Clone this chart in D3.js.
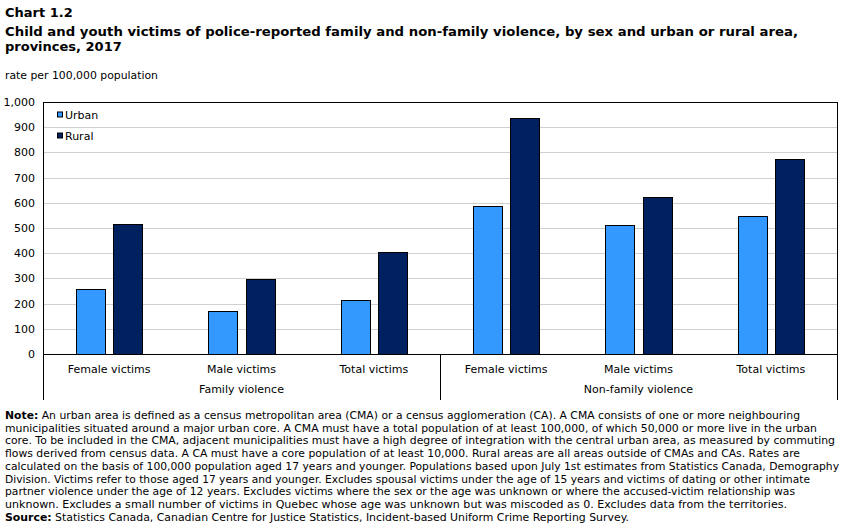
<!DOCTYPE html>
<html>
<head>
<meta charset="utf-8">
<script src="https://cdn.jsdelivr.net/npm/d3@7"></script>
<style>
  html, body { margin: 0; padding: 0; background: #fff; }
  svg { display: block; }
  text { font-family: Verdana, "DejaVu Sans", sans-serif; fill: #000; }
</style>
</head>
<body>
<svg id="chart" width="852" height="530"></svg>
<script>
// ---- Data ----
const groups = ["Family violence", "Non-family violence"];
const categories = ["Female victims", "Male victims", "Total victims", "Female victims", "Male victims", "Total victims"];
const categoryGroup = [0, 0, 0, 1, 1, 1];
const seriesNames = ["Urban", "Rural"];
const urban = [257, 171, 214, 587, 512, 547];
const rural = [516, 297, 405, 936, 622, 773];
const yTicks = [0, 100, 200, 300, 400, 500, 600, 700, 800, 900, 1000];
const colors = ["#3399ff", "#002060"];

const titleLines = [
  "Chart 1.2",
  "Child and youth victims of police-reported family and non-family violence, by sex and urban or rural area,",
  "provinces, 2017"
];
const unitLabel = "rate per 100,000 population";
const noteLines = [
  ["Note:", " An urban area is defined as a census metropolitan area (CMA) or a census agglomeration (CA). A CMA consists of one or more neighbouring"],
  ["", "municipalities situated around a major urban core. A CMA must have a total population of at least 100,000, of which 50,000 or more live in the urban"],
  ["", "core. To be included in the CMA, adjacent municipalities must have a high degree of integration with the central urban area, as measured by commuting"],
  ["", "flows derived from census data. A CA must have a core population of at least 10,000. Rural areas are all areas outside of CMAs and CAs. Rates are"],
  ["", "calculated on the basis of 100,000 population aged 17 years and younger. Populations based upon July 1st estimates from Statistics Canada, Demography"],
  ["", "Division. Victims refer to those aged 17 years and younger. Excludes spousal victims under the age of 15 years and victims of dating or other intimate"],
  ["", "partner violence under the age of 12 years. Excludes victims where the sex or the age was unknown or where the accused-victim relationship was"],
  ["", "unknown. Excludes a small number of victims in Quebec whose age was unknown but was miscoded as 0. Excludes data from the territories."],
  ["Source:", " Statistics Canada, Canadian Centre for Justice Statistics, Incident-based Uniform Crime Reporting Survey."]
];
const noteWidths = [800, 817, 835, 800, 839, 810, 795, 787, 629];

// ---- Layout ----
const svg = d3.select("#chart");
const plot = { left: 43, right: 837, top: 102, bottom: 354 };

const x0 = d3.scaleBand().domain(d3.range(categories.length)).range([plot.left, plot.right]).padding(0);
const bw = x0.bandwidth();
const x1 = d3.scaleBand().domain(seriesNames).range([bw * 0.25, bw * 0.75]).paddingInner(0.216).paddingOuter(0);
const y = d3.scaleLinear().domain([0, 1000]).range([plot.bottom, plot.top]);

// Title
const title = svg.append("g");
title.append("text").attr("x", 5).attr("y", 17).attr("font-size", 13).attr("font-weight", "bold").text(titleLines[0]);
title.append("text").attr("x", 5).attr("y", 36).attr("font-size", 13).attr("font-weight", "bold")
  .attr("textLength", 793).attr("lengthAdjust", "spacingAndGlyphs").text(titleLines[1]);
title.append("text").attr("x", 5).attr("y", 51).attr("font-size", 13).attr("font-weight", "bold").text(titleLines[2]);

svg.append("text").attr("x", 5).attr("y", 79).attr("font-size", 11)
  .attr("textLength", 153).attr("lengthAdjust", "spacingAndGlyphs").text(unitLabel);

// Gridlines
svg.append("g").selectAll("line").data(yTicks.filter(d => d > 0 && d < 1000)).join("line")
  .attr("x1", plot.left).attr("x2", plot.right)
  .attr("y1", d => Math.round(y(d)) + 0.5).attr("y2", d => Math.round(y(d)) + 0.5)
  .attr("stroke", "#d0d0d0").attr("stroke-width", 1);

// Y axis labels
const yAxis = d3.axisLeft(y).tickValues(yTicks).tickSize(0).tickPadding(8).tickFormat(d3.format(","));
const yg = svg.append("g").attr("transform", `translate(${plot.left},0)`).call(yAxis);
yg.select(".domain").remove();
yg.selectAll("text").attr("font-size", 11).attr("font-family", 'Verdana, "DejaVu Sans", sans-serif').attr("fill", "#000");

// Bars
const rows = categories.map((c, i) => ({ i, values: [urban[i], rural[i]] }));
const barG = svg.append("g");
rows.forEach(r => {
  barG.selectAll(null).data(seriesNames.map((s, k) => ({ s, k, v: r.values[k] }))).join("rect")
    .attr("x", d => Math.round(x0(r.i) + x1(d.s)) + 0.5)
    .attr("y", d => Math.round(y(d.v)) + 0.5)
    .attr("width", Math.round(x1.bandwidth()))
    .attr("height", d => Math.round(y(0)) - Math.round(y(d.v)))
    .attr("fill", d => colors[d.k])
    .attr("stroke", "#000").attr("stroke-width", 1);
});

// Frame
svg.append("rect")
  .attr("x", plot.left + 0.5).attr("y", plot.top + 0.5)
  .attr("width", plot.right - plot.left).attr("height", plot.bottom - plot.top)
  .attr("fill", "none").attr("stroke", "#000").attr("stroke-width", 1);

// Category axis
const catG = svg.append("g");
catG.selectAll("text.cat").data(categories).join("text").attr("class", "cat")
  .attr("x", (d, i) => x0(i) + bw / 2).attr("y", 373)
  .attr("text-anchor", "middle").attr("font-size", 11).text(d => d);

const groupBounds = groups.map((g, gi) => {
  const idx = d3.range(categories.length).filter(i => categoryGroup[i] === gi);
  return { g, x0: x0(idx[0]), x1: x0(idx[idx.length - 1]) + bw };
});
catG.selectAll("text.grp").data(groupBounds).join("text").attr("class", "grp")
  .attr("x", d => (d.x0 + d.x1) / 2).attr("y", 393)
  .attr("text-anchor", "middle").attr("font-size", 11).text(d => d.g);

const sepXs = [groupBounds[0].x0, ...groupBounds.map(d => d.x1)];
catG.selectAll("line.sep").data(sepXs).join("line").attr("class", "sep")
  .attr("x1", d => Math.round(d) + 0.5).attr("x2", d => Math.round(d) + 0.5)
  .attr("y1", plot.bottom).attr("y2", 400)
  .attr("stroke", "#000").attr("stroke-width", 1);

// Legend
const leg = svg.append("g");
seriesNames.forEach((s, k) => {
  const ly = 114.5 + k * 21;
  leg.append("rect").attr("x", 57.5).attr("y", ly - 2.5).attr("width", 5).attr("height", 5)
    .attr("fill", colors[k]).attr("stroke", "#000").attr("stroke-width", 1);
  leg.append("text").attr("x", 65).attr("y", ly + 4).attr("font-size", 11).text(s);
});

// Notes
const notes = svg.append("g");
noteLines.forEach((ln, i) => {
  const t = notes.append("text").attr("x", 5).attr("y", 419 + i * 12.7).attr("font-size", 10.2)
    .attr("textLength", noteWidths[i] - 5).attr("lengthAdjust", "spacingAndGlyphs");
  if (ln[0]) t.append("tspan").attr("font-weight", "bold").text(ln[0]);
  t.append("tspan").text(ln[1]);
});
</script>
</body>
</html>
